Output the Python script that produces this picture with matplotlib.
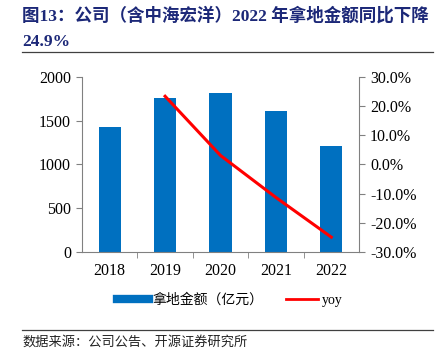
import matplotlib.pyplot as plt
from matplotlib.ticker import FuncFormatter
from matplotlib.lines import Line2D

years = ['2018', '2019', '2020', '2021', '2022']
land_amount = [1429, 1763, 1817, 1611, 1211]  # 亿元
yoy_years = ['2019', '2020', '2021', '2022']
yoy = [23.4, 3.1, -11.3, -24.9]  # %

FONT = ['Liberation Serif', 'Noto Sans CJK SC']
BLUE = '#0070C0'
NAVY = '#1c2878'
GRAY = '#808080'


def main():
    fig = plt.figure(figsize=(4.38, 3.64), dpi=100)
    ax = fig.add_axes([82 / 438, 1 - 252 / 364, 277 / 438, 175 / 364])

    x = list(range(len(years)))
    ax.bar(x, land_amount, width=0.4, color=BLUE, zorder=2)
    ax.set_xlim(-0.5, len(years) - 0.5)
    ax.set_ylim(0, 2000)
    ax.set_yticks([0, 500, 1000, 1500, 2000])
    ax.set_xticks(x)
    ax.set_xticklabels(years)
    ax.set_xticks([i + 0.5 for i in x[:-1]], minor=True)
    ax.tick_params(axis='x', which='major', length=0, pad=8)
    ax.tick_params(axis='x', which='minor', length=4, color=GRAY, direction='out')
    ax.tick_params(axis='y', length=4, color=GRAY, direction='out', pad=4)
    for lab in ax.get_xticklabels() + ax.get_yticklabels():
        lab.set_fontfamily(FONT)
        lab.set_fontsize(11.5)
    for side in ['top', 'right']:
        ax.spines[side].set_visible(False)
    for side in ['left', 'bottom']:
        ax.spines[side].set_color(GRAY)

    ax2 = ax.twinx()
    xi = [years.index(y) for y in yoy_years]
    ax2.plot(xi, yoy, color='#FF0000', linewidth=2.2, zorder=3)
    ax2.set_ylim(-30, 30)
    ax2.set_yticks([-30, -20, -10, 0, 10, 20, 30])
    ax2.yaxis.set_major_formatter(FuncFormatter(lambda v, p: '%.1f%%' % v))
    ax2.tick_params(axis='y', length=4, color=GRAY, direction='out', pad=4)
    for lab in ax2.get_yticklabels():
        lab.set_fontfamily(FONT)
        lab.set_fontsize(11.5)
    for side in ['top', 'left', 'bottom']:
        ax2.spines[side].set_visible(False)
    ax2.spines['right'].set_color(GRAY)

    handles = [Line2D([0], [0], color=BLUE, linewidth=6),
               Line2D([0], [0], color='#FF0000', linewidth=2)]
    fig.legend(handles, ['拿地金额（亿元）', 'yoy'],
               loc='center', bbox_to_anchor=(230 / 438, 1 - 300 / 364),
               ncol=2, frameon=False, handlelength=2.3, columnspacing=1.6,
               handletextpad=0.3, prop={'family': FONT, 'size': 10})

    fig.text(22 / 438, 1 - 16 / 364, '图13：公司（含中海宏洋）2022 年拿地金额同比下降',
             fontfamily=FONT, fontsize=12.6, fontweight='bold', color=NAVY,
             va='center', ha='left')
    fig.text(22 / 438, 1 - 42 / 364, '24.9%', fontfamily=FONT, fontsize=12.6,
             fontweight='bold', color=NAVY, va='center', ha='left')
    fig.add_artist(Line2D([22 / 438, 433 / 438], [1 - 52 / 364, 1 - 52 / 364],
                          color='#404040', linewidth=0.9))
    fig.add_artist(Line2D([22 / 438, 433 / 438], [1 - 330 / 364, 1 - 330 / 364],
                          color='#404040', linewidth=0.9))
    fig.text(22 / 438, 1 - 342 / 364, '数据来源：公司公告、开源证券研究所',
             fontfamily=FONT, fontsize=9.5, color='#222222', va='center', ha='left')

    fig.savefig('out.png', dpi=100)
    plt.close()


if __name__ == '__main__':
    main()
